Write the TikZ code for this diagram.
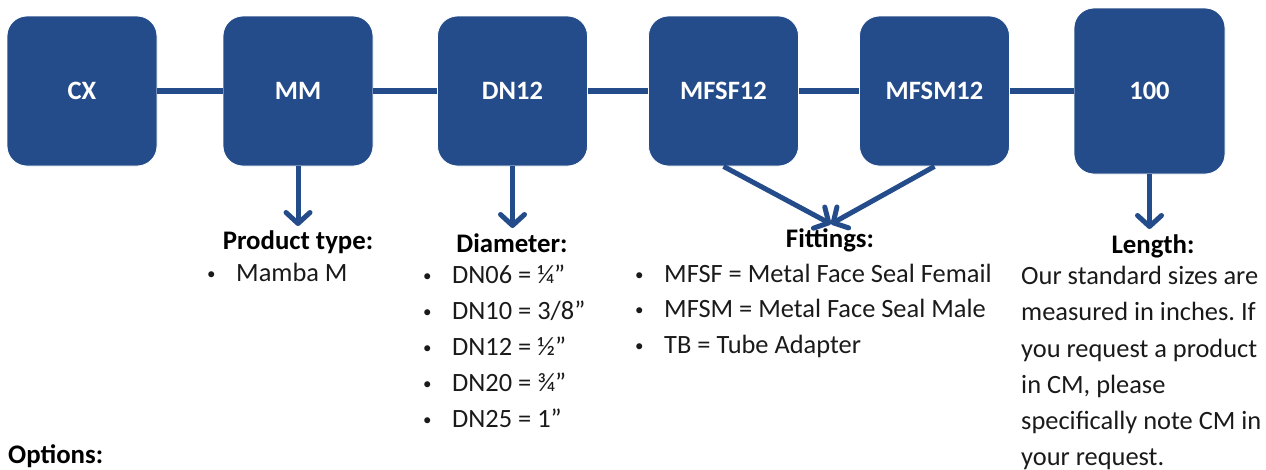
\documentclass[tikz,border=0pt]{standalone}
\usepackage{fontspec}
\setmainfont{Carlito}
\usetikzlibrary{arrows.meta}
\definecolor{navy}{HTML}{244C8A}
\definecolor{txt}{HTML}{1A1A1A}
\newcommand{\blt}{\makebox[29pt][l]{\raisebox{1.5pt}{\fontsize{17pt}{17pt}\selectfont •}}}
\frenchspacing
\begin{document}
\begin{tikzpicture}[x=1pt,y=-1pt,
  box/.style={fill=navy,draw=white,line width=0.8pt,rounded corners=20pt,
    minimum width=150pt,minimum height=150pt,inner sep=0pt,
    text=white,font=\fontsize{26.5pt}{30pt}\bfseries\selectfont},
  link/.style={navy,line width=6pt},
  arr/.style={navy,line width=5pt,-{Straight Barb[length=11pt,width=24pt,line join=round,line cap=round]}},
  head/.style={anchor=base,inner sep=0pt,text=black,font=\fontsize{26.8pt}{30pt}\bfseries\selectfont},
  item/.style={anchor=base west,inner sep=0pt,text=txt,font=\fontsize{26.4pt}{30pt}\selectfont},
]
\useasboundingbox (0,0) rectangle (1266,469);
% boxes
\node[box] (cx)   at (82,91)    {CX};
\node[box] (mm)   at (298,91)   {MM};
\node[box] (dn)   at (512.5,91) {DN12};
\node[box] (mfsf) at (723.5,91) {MFSF12};
\node[box] (mfsm) at (934.5,91) {MFSM12};
\node[box,minimum height=166pt,minimum width=151pt] (len) at (1149.5,91) {100};
% links
\draw[link] (cx.east) -- (mm.west);
\draw[link] (mm.east) -- (dn.west);
\draw[link] (dn.east) -- (mfsf.west);
\draw[link] (mfsf.east) -- (mfsm.west);
\draw[link] (mfsm.east) -- (len.west);
% arrow targets
\coordinate (tpt) at (298,226);
\coordinate (tdn) at (512.5,228);
\coordinate (tfit) at (831,224);
\coordinate (tlen) at (1149.5,229);
\draw[arr] (mm.south) -- (tpt);
\draw[arr] (dn.south) -- (tdn);
\draw[arr] (mfsf.south) -- (tfit);
\draw[arr] (mfsm.south) -- (tfit);
\draw[arr] (len.south) -- (tlen);
% headings
\node[head] (hpt)  at (298,249)  {Product type:};
\node[head] (hdn)  at (512,252)  {Diameter:};
\node[head] (hfit) at (830,247)  {Fittings:};
\node[head] (hlen) at (1153,253) {Length:};
\node[head,anchor=base west] (hopt) at (8,463) {Options:};
% product type
\node[item] (pt1) at (207,281) {\blt Mamba M};
% diameter
\node[item] (d1) at (423,283) {\blt DN06 = ¼”};
\node[item] (d2) at (423,319) {\blt DN10 = 3/8”};
\node[item] (d3) at (423,355) {\blt DN12 = ½”};
\node[item] (d4) at (423,391) {\blt DN20 = ¾”};
\node[item] (d5) at (423,427) {\blt DN25 = 1”};
% fittings
\node[item] (f1) at (635,282) {\blt MFSF = Metal Face Seal Femail};
\node[item] (f2) at (635,317) {\blt MFSM = Metal Face Seal Male};
\node[item] (f3) at (635,353) {\blt TB = Tube Adapter};
% length
\node[item] (l1) at (1021,284) {Our standard sizes are};
\node[item] (l2) at (1021,320) {measured in inches. If};
\node[item] (l3) at (1021,357) {you request a product};
\node[item] (l4) at (1021,393) {in CM, please};
\node[item] (l5) at (1021,429) {specifically note CM in};
\node[item] (l6) at (1021,465) {your request.};
\end{tikzpicture}
\end{document}
